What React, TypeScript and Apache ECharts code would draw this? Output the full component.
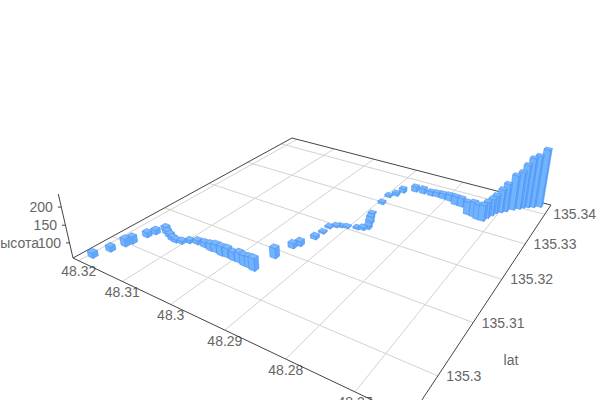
import React, { useEffect, useRef } from "react";
import * as echarts from "echarts";

const lonValues = [
  48.3192, 48.3183, 48.3175, 48.3172, 48.3167, 48.3162, 48.3157, 48.3146, 48.3135, 48.3124, 48.3115,
  48.3104, 48.3095, 48.3081, 48.3065, 48.305, 48.304, 48.3026, 48.3015, 48.3001, 48.2989, 48.2977,
  48.2967, 48.2957, 48.2951, 48.2944, 48.2938, 48.2929, 48.2928, 48.2928, 48.292, 48.2913, 48.2903,
  48.2886, 48.2877, 48.2871, 48.2877, 48.2884, 48.2889, 48.2893, 48.2895, 48.2886, 48.2881, 48.2863,
  48.2847, 48.2831, 48.282, 48.2807, 48.2794, 48.2779, 48.2767, 48.2747, 48.2735, 48.2726, 48.2717,
  48.2714, 48.271, 48.2707, 48.27, 48.2694, 48.2685, 48.2677, 48.2672, 48.2665, 48.2657, 48.2647,
];
const latValues = [
  135.2953, 135.2976, 135.2996, 135.3006, 135.3029, 135.3041, 135.3056, 135.305, 135.3046, 135.3042, 135.3041,
  135.3043, 135.305, 135.3054, 135.3054, 135.3052, 135.3053, 135.3051, 135.3052, 135.3051, 135.3051, 135.3049,
  135.3049, 135.3047, 135.3085, 135.3118, 135.3128, 135.3154, 135.3173, 135.319, 135.3198, 135.3202, 135.3205,
  135.321, 135.3213, 135.3219, 135.3234, 135.3247, 135.3259, 135.3297, 135.3323, 135.3334, 135.335, 135.3364,
  135.3365, 135.3365, 135.3367, 135.3366, 135.3365, 135.3358, 135.3357, 135.3339, 135.3337, 135.3333, 135.3333,
  135.3345, 135.3356, 135.3366, 135.3373, 135.338, 135.3391, 135.3399, 135.3406, 135.3411, 135.3416, 135.3423,
];
const altValues = [
  71, 71, 79, 77, 71, 70, 67, 66, 66, 66, 65,
  65, 65, 68, 71, 77, 80, 83, 83, 80, 86, 86,
  88, 92, 86, 71, 71, 66, 61, 61, 61, 60, 60,
  61, 64, 67, 67, 64, 61, 63, 63, 66, 69, 73,
  73, 70, 70, 73, 76, 83, 83, 96, 102, 102, 105,
  105, 108, 112, 128, 142, 164, 171, 190, 210, 217, 235,
];

const lonTicks = [48.32, 48.31, 48.3, 48.29, 48.28, 48.27];
const latTicks = [135.3, 135.31, 135.32, 135.33, 135.34];
const altTicks = [100, 150, 200];
const lonRange = [48.2629, 48.3214];
const latRange = [135.2935, 135.3435];
const altRange = [56, 235];
const altName = "высота";
const latName = "lat";

// Camera: maps (u, v, h) in the unit box to the screen.
const H = { a: 217.3, b: 353.3, c: 73, d: 38, e: -56.5, f: 258, g: -0.2919, h: 0.4601 };
const VERT = { x: 340, y: 1420, k: -0.0522 };
const project = (u: number, v: number, t = 0): number[] => {
  const n = VERT.k * t;
  const w = H.g * u + H.h * v + 1 + n;
  return [(H.a * u + H.b * v + H.c + n * VERT.x) / w, (H.d * u + H.e * v + H.f + n * VERT.y) / w];
};
const depth = (u: number, v: number) => H.g * u + H.h * v + 1;
const W = 600;
const HT = 400;
const uvOf = (api: any, lon: number, lat: number) => {
  const p = api.coord([lon, lat]);
  return [p[0] / W, 1 - p[1] / HT];
};
const hOf = (alt: number) => echarts.number.linearMap(alt, altRange as any, [0, 1]);

const FONT = '14px "Liberation Sans", Arial, sans-serif';
const TEXT = "#666";
const GRID = "#d2d2d2";
const EDGE = "#444";
const HALF_U = 0.0098;
const HALF_V = 0.0085;

const text = (s: string, x: number, y: number, align: string) => ({
  type: "text",
  x,
  y,
  style: { text: s, fill: TEXT, font: FONT, align, verticalAlign: "middle" },
});
const seg = (p: number[], q: number[], stroke: string, lineWidth = 1) => ({
  type: "line",
  shape: { x1: p[0], y1: p[1], x2: q[0], y2: q[1] },
  style: { stroke, lineWidth, fill: "none" },
});

const renderLonTick = (_: any, api: any) => {
  const [u] = uvOf(api, api.value(0), latRange[0]);
  const p = project(u, 0);
  return {
    type: "group",
    children: [seg(p, project(u, 1), GRID), text(String(api.value(0)), p[0], p[1] + 10.5, "center")],
  };
};
const renderLatTick = (_: any, api: any) => {
  const [, v] = uvOf(api, lonRange[0], api.value(1));
  const p = project(1, v);
  return {
    type: "group",
    children: [seg(project(0, v), p, GRID), text(String(api.value(1)), p[0] + 8.5, p[1], "left")],
  };
};
const renderFrame = () => {
  const L = project(0, 0);
  const B = project(0, 1);
  const R = project(1, 1);
  const F = project(1, 0);
  const T = project(0, 0, 1);
  return {
    type: "group",
    children: [
      seg(L, B, EDGE),
      seg(B, R, EDGE),
      seg(R, F, EDGE),
      seg(L, F, EDGE),
      seg(L, T, EDGE),
      text(altName, 39, 243, "right"),
      text(latName, 511, 360, "center"),
    ],
  };
};
const renderAltTick = (_: any, api: any) => {
  const p = project(0, 0, hOf(api.value(0)));
  return {
    type: "group",
    children: [seg(p, [p[0] - 3.5, p[1]], EDGE), text(String(api.value(0)), p[0] - 8.5, p[1], "right")],
  };
};
const poly = (points: number[][], fill: string) => ({
  type: "polygon",
  shape: { points },
  style: { fill, stroke: "#4d92f2", lineWidth: 0.6 },
});
const renderBar = (_: any, api: any) => {
  const [u, v] = uvOf(api, api.value(0), api.value(1));
  const t = hOf(api.value(2));
  const c = (du: number, dv: number, h: number) => project(u + du * HALF_U, v + dv * HALF_V, h);
  return {
    type: "group",
    children: [
      poly([c(-1, -1, 0), c(1, -1, 0), c(1, -1, t), c(-1, -1, t)], "#70b4ff"),
      poly([c(1, -1, 0), c(1, 1, 0), c(1, 1, t), c(1, -1, t)], "#62a9fd"),
      poly([c(-1, -1, t), c(1, -1, t), c(1, 1, t), c(-1, 1, t)], "#7cbaff"),
    ],
  };
};

export default function App() {
  const ref = useRef<HTMLDivElement>(null);
  useEffect(() => {
    document.body.style.margin = "0";
    const chart = echarts.init(ref.current!, undefined, { renderer: "svg" });
    const sortKey = (i: number) =>
      depth(
        (lonRange[1] - lonValues[i]) / (lonRange[1] - lonRange[0]),
        (latValues[i] - latRange[0]) / (latRange[1] - latRange[0]),
      );
    const barData = lonValues
      .map((lon, i) => ({ i, row: [lon, latValues[i], altValues[i]] }))
      .sort((p, q) => sortKey(q.i) - sortKey(p.i))
      .map((d) => d.row);
    const custom = (name: string, z: number, data: any[], renderItem: any) => ({
      type: "custom",
      name,
      z,
      silent: true,
      coordinateSystem: "cartesian2d",
      encode: { x: 0, y: 1 },
      data,
      renderItem,
    });
    chart.setOption({
      animation: false,
      tooltip: { show: false },
      grid: { left: 0, top: 0, width: W, height: HT, show: false },
      xAxis: { type: "value", min: lonRange[0], max: lonRange[1], inverse: true, show: false, scale: true },
      yAxis: { type: "value", min: latRange[0], max: latRange[1], show: false, scale: true },
      series: [
        custom("lonTicks", 1, lonTicks.map((t) => [t, latRange[0]]), renderLonTick),
        custom("latTicks", 1, latTicks.map((t) => [lonRange[0], t]), renderLatTick),
        custom("frame", 2, [[lonRange[0], latRange[0]]], renderFrame),
        custom("altTicks", 2, altTicks.map((t) => [t, latRange[0]]), renderAltTick),
        custom("bars", 3, barData, renderBar),
      ],
    });
    return () => chart.dispose();
  }, []);
  return <div ref={ref} style={{ width: W, height: HT, background: "#fff" }} />;
}
